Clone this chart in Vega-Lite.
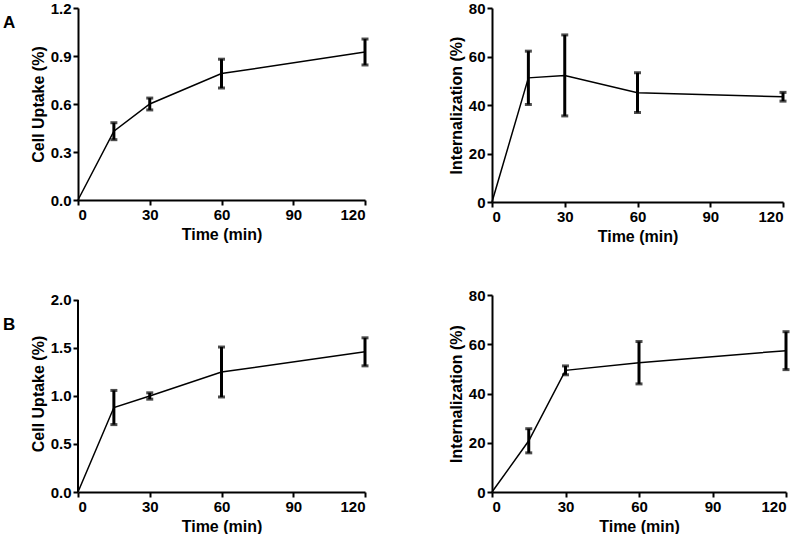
{
  "$schema": "https://vega.github.io/schema/vega-lite/v6.json",
  "padding": {"left": 3, "top": 1, "right": 5, "bottom": 0},
  "background": "white",
  "datasets": {
    "uptakeA": [
      {"time": 0, "mean": 0, "err": 0},
      {"time": 15, "mean": 0.43, "err": 0.053},
      {"time": 30, "mean": 0.60, "err": 0.037},
      {"time": 60, "mean": 0.79, "err": 0.09},
      {"time": 120, "mean": 0.925, "err": 0.081}
    ],
    "internA": [
      {"time": 0, "mean": 0, "err": 0},
      {"time": 15, "mean": 51.2, "err": 11},
      {"time": 30, "mean": 52.2, "err": 16.7},
      {"time": 60, "mean": 45.1, "err": 8.2},
      {"time": 120, "mean": 43.4, "err": 1.8}
    ],
    "uptakeB": [
      {"time": 0, "mean": 0, "err": 0},
      {"time": 15, "mean": 0.88, "err": 0.178},
      {"time": 30, "mean": 1.0, "err": 0.033},
      {"time": 60, "mean": 1.25, "err": 0.26},
      {"time": 120, "mean": 1.46, "err": 0.146}
    ],
    "internB": [
      {"time": 0, "mean": 0, "err": 0},
      {"time": 15, "mean": 20.8, "err": 4.9},
      {"time": 30, "mean": 49.4, "err": 1.8},
      {"time": 60, "mean": 52.5, "err": 8.6},
      {"time": 120, "mean": 57.4, "err": 7.7}
    ]
  },
  "config": {
    "font": "Liberation Sans",
    "view": {"stroke": null},
    "axis": {
      "grid": false,
      "domainColor": "black",
      "domainWidth": 2,
      "tickColor": "black",
      "tickWidth": 2,
      "tickSize": 5,
      "labelFontSize": 15,
      "labelFontWeight": "bold",
      "labelColor": "black",
      "labelPadding": 2,
      "titleFontSize": 16,
      "titleFontWeight": "bold",
      "titleColor": "black"
    },
    "axisX": {"titlePadding": 4},
    "axisY": {"titlePadding": 4}
  },
  "vconcat": [
    {
      "hconcat": [
        {
          "width": 287, "height": 192,
          "title": {"text": "A", "orient": "top", "anchor": "start", "frame": "group", "fontSize": 17, "fontWeight": "bold", "color": "black", "baseline": "middle", "offset": 0, "dx": -75, "dy": 39},
          "data": {"name": "uptakeA"},
          "layer": [
            {"mark": {"type": "line", "color": "black", "strokeWidth": 1.5},
             "encoding": {
               "x": {"field": "time", "type": "quantitative", "scale": {"domain": [0, 120]}, "axis": {"values": [0, 30, 60, 90, 120], "title": "Time (min)"}},
               "y": {"field": "mean", "type": "quantitative", "scale": {"domain": [0, 1.2]}, "axis": {"values": [0, 0.3, 0.6, 0.9, 1.2], "format": ".1f", "title": "Cell Uptake (%)"}}
             }},
            {"transform": [{"filter": "datum.err > 0"}],
             "mark": {"type": "errorbar", "ticks": {"size": 7, "thickness": 3, "color": "black"}, "rule": {"strokeWidth": 3, "color": "black"}},
             "encoding": {
               "x": {"field": "time", "type": "quantitative", "title": "Time (min)"},
               "y": {"field": "mean", "type": "quantitative", "title": "Cell Uptake (%)"},
               "yError": {"field": "err"}
             }}
          ]
        },
        {
          "width": 291, "height": 194,
          "data": {"name": "internA"},
          "layer": [
            {"mark": {"type": "line", "color": "black", "strokeWidth": 1.5},
             "encoding": {
               "x": {"field": "time", "type": "quantitative", "scale": {"domain": [0, 120]}, "axis": {"values": [0, 30, 60, 90, 120], "title": "Time (min)"}},
               "y": {"field": "mean", "type": "quantitative", "scale": {"domain": [0, 80]}, "axis": {"values": [0, 20, 40, 60, 80], "title": "Internalization (%)"}}
             }},
            {"transform": [{"filter": "datum.err > 0"}],
             "mark": {"type": "errorbar", "ticks": {"size": 7, "thickness": 3, "color": "black"}, "rule": {"strokeWidth": 3, "color": "black"}},
             "encoding": {
               "x": {"field": "time", "type": "quantitative", "title": "Time (min)"},
               "y": {"field": "mean", "type": "quantitative", "title": "Internalization (%)"},
               "yError": {"field": "err"}
             }}
          ]
        }
      ],
      "spacing": 79
    },
    {
      "hconcat": [
        {
          "width": 287, "height": 197,
          "title": {"text": "B", "orient": "top", "anchor": "start", "frame": "group", "fontSize": 17, "fontWeight": "bold", "color": "black", "baseline": "middle", "offset": 0, "dx": -75, "dy": 49},
          "data": {"name": "uptakeB"},
          "layer": [
            {"mark": {"type": "line", "color": "black", "strokeWidth": 1.5},
             "encoding": {
               "x": {"field": "time", "type": "quantitative", "scale": {"domain": [0, 120]}, "axis": {"values": [0, 30, 60, 90, 120], "title": "Time (min)"}},
               "y": {"field": "mean", "type": "quantitative", "scale": {"domain": [0, 2.052], "nice": false}, "axis": {"values": [0, 0.5, 1, 1.5, 2], "format": ".1f", "title": "Cell Uptake (%)", "domain": false}}
             }},
            {"mark": {"type": "rule", "color": "black", "strokeWidth": 2},
             "encoding": {
               "x": {"datum": 0, "type": "quantitative"},
               "y": {"datum": 0, "type": "quantitative"},
               "y2": {"datum": 2}
             }},
            {"transform": [{"filter": "datum.err > 0"}],
             "mark": {"type": "errorbar", "ticks": {"size": 7, "thickness": 3, "color": "black"}, "rule": {"strokeWidth": 3, "color": "black"}},
             "encoding": {
               "x": {"field": "time", "type": "quantitative", "title": "Time (min)"},
               "y": {"field": "mean", "type": "quantitative", "title": "Cell Uptake (%)"},
               "yError": {"field": "err"}
             }}
          ]
        },
        {
          "width": 294, "height": 197,
          "data": {"name": "internB"},
          "layer": [
            {"mark": {"type": "line", "color": "black", "strokeWidth": 1.5},
             "encoding": {
               "x": {"field": "time", "type": "quantitative", "scale": {"domain": [0, 120]}, "axis": {"values": [0, 30, 60, 90, 120], "title": "Time (min)"}},
               "y": {"field": "mean", "type": "quantitative", "scale": {"domain": [0, 80]}, "axis": {"values": [0, 20, 40, 60, 80], "title": "Internalization (%)"}}
             }},
            {"transform": [{"filter": "datum.err > 0"}],
             "mark": {"type": "errorbar", "ticks": {"size": 7, "thickness": 3, "color": "black"}, "rule": {"strokeWidth": 3, "color": "black"}},
             "encoding": {
               "x": {"field": "time", "type": "quantitative", "title": "Time (min)"},
               "y": {"field": "mean", "type": "quantitative", "title": "Internalization (%)"},
               "yError": {"field": "err"}
             }}
          ]
        }
      ],
      "spacing": 79
    }
  ],
  "spacing": 44
}
